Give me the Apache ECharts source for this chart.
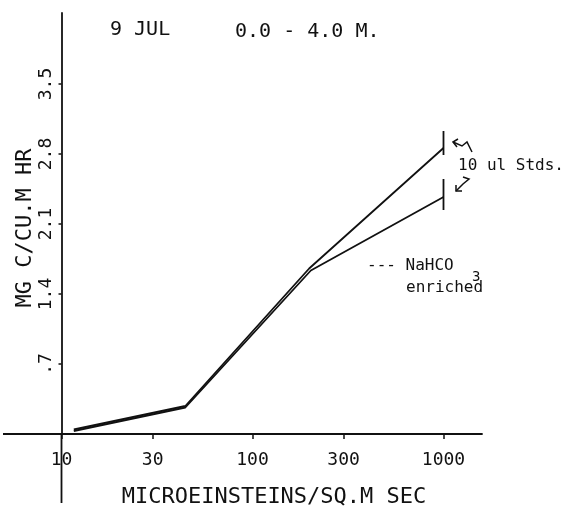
<!DOCTYPE html>
<html>
<head>
<meta charset="utf-8">
<script src="https://cdn.jsdelivr.net/npm/echarts@6/dist/echarts.min.js"></script>
<style>
  html, body { margin: 0; padding: 0; background: #fff; }
  #chart { width: 569px; height: 512px; }
</style>
</head>
<body>
<div id="chart"></div>
<script>
// Light levels (microeinsteins / sq.m / sec) and carbon uptake (mg C / cu.m / hr)
const lightUpper = [11.6, 44.5, 198, 1000];
const uptakeUpper = [0.045, 0.28, 1.655, 2.86];
const lightLower = [11.6, 44.5, 202, 1000];
const uptakeLower = [0.03, 0.265, 1.635, 2.37];

// Spread of the 10 ul standards at the top light level
const stdLight = [1000, 1000];
const stdLow = [2.79, 2.24];
const stdHigh = [3.03, 2.55];

// Axis ticks
const xTickValues = [10, 30, 100, 300, 1000];
const xTickLabels = ['10', '30', '100', '300', '1000'];
const yTickValues = [0.7, 1.4, 2.1, 2.8, 3.5];
const yTickLabels = ['.7', '1.4', '2.1', '2.8', '3.5'];

// Light is plotted in decades above 10, so the vertical axis sits at 10
const toX = v => Math.log10(v / 10);

const MONO = '"DejaVu Sans Mono", "Liberation Mono", monospace';
const INK = '#111';

// plot frame (px)
const G = { left: 61.5, top: 13, right: 87, bottom: 78 };
const W = 569, H = 512;
const axisX = G.left, axisY = H - G.bottom;

function pickLabel(values, labels, val) {
  for (let i = 0; i < values.length; i++) {
    if (Math.abs(values[i] - val) < 1e-6) return labels[i];
  }
  return '';
}

const chart = echarts.init(document.getElementById('chart'), null, { renderer: 'canvas' });

chart.setOption({
  animation: false,
  backgroundColor: '#fff',
  grid: { left: G.left, right: G.right, top: G.top, bottom: G.bottom, outerBoundsMode: 'none' },
  xAxis: {
    type: 'value',
    min: 0,
    max: 2.2016,
    axisLine: { onZero: false, lineStyle: { color: INK, width: 1.8 } },
    axisTick: {
      customValues: xTickValues.map(toX),
      length: 5,
      lineStyle: { color: INK, width: 1.5 }
    },
    axisLabel: {
      customValues: xTickValues.map(toX),
      margin: 17,
      color: INK,
      fontFamily: MONO,
      fontSize: 18,
      formatter: v => pickLabel(xTickValues.map(toX), xTickLabels, v)
    },
    splitLine: { show: false }
  },
  yAxis: {
    type: 'value',
    min: 0,
    max: 4.21,
    axisLine: { onZero: false, lineStyle: { color: INK, width: 1.8 } },
    axisTick: {
      customValues: yTickValues,
      length: 3,
      lineStyle: { color: INK, width: 1.5 }
    },
    axisLabel: {
      customValues: yTickValues,
      rotate: 90,
      margin: 6,
      color: INK,
      fontFamily: MONO,
      fontSize: 18,
      formatter: v => pickLabel(yTickValues, yTickLabels, v)
    },
    splitLine: { show: false }
  },
  series: [
    {
      type: 'line',
      symbol: 'none',
      lineStyle: { color: INK, width: 1.8 },
      data: lightUpper.map((v, i) => [toX(v), uptakeUpper[i]])
    },
    {
      type: 'line',
      symbol: 'none',
      lineStyle: { color: INK, width: 1.8 },
      data: lightLower.map((v, i) => [toX(v), uptakeLower[i]])
    },
    {
      // vertical bars showing the standards' spread
      type: 'custom',
      encode: { x: 0, y: [1, 2] },
      data: stdLight.map((v, i) => [toX(v), stdLow[i], stdHigh[i]]),
      renderItem: (params, api) => {
        const a = api.coord([api.value(0), api.value(1)]);
        const b = api.coord([api.value(0), api.value(2)]);
        return {
          type: 'line',
          shape: { x1: a[0], y1: a[1], x2: b[0], y2: b[1] },
          style: { stroke: INK, lineWidth: 1.8 }
        };
      }
    }
  ],
  graphic: [
    // axis lines run on past the crossing point
    { type: 'line', shape: { x1: 3, y1: axisY, x2: axisX, y2: axisY }, style: { stroke: INK, lineWidth: 1.8 } },
    { type: 'line', shape: { x1: axisX, y1: axisY, x2: axisX, y2: 503 }, style: { stroke: INK, lineWidth: 1.8 } },
    { type: 'text', x: 110, y: 30, style: { text: '9 JUL', font: '20px ' + MONO, fill: INK, verticalAlign: 'middle' } },
    { type: 'text', x: 235, y: 32, style: { text: '0.0 - 4.0 M.', font: '20px ' + MONO, fill: INK, verticalAlign: 'middle' } },
    { type: 'text', x: 274, y: 497, style: { text: 'MICROEINSTEINS/SQ.M SEC', font: '22px ' + MONO, fill: INK, align: 'center', verticalAlign: 'middle' } },
    { type: 'text', x: 25, y: 228, rotation: Math.PI / 2, style: { text: 'MG C/CU.M HR', font: '22px ' + MONO, fill: INK, align: 'center', verticalAlign: 'middle' } },
    { type: 'text', x: 458, y: 166, style: { text: '10 ul Stds.', font: '16px ' + MONO, fill: INK, verticalAlign: 'middle' } },
    { type: 'text', x: 367, y: 266, style: { text: '--- NaHCO', font: '16px ' + MONO, fill: INK, verticalAlign: 'middle' } },
    { type: 'text', x: 472, y: 277, style: { text: '3', font: '14px ' + MONO, fill: INK, verticalAlign: 'middle' } },
    { type: 'text', x: 406, y: 288, style: { text: 'enriched', font: '16px ' + MONO, fill: INK, verticalAlign: 'middle' } },
    // pointers to the two standard bars
    { type: 'polyline', shape: { points: [[472, 152], [467, 142], [462, 146], [453, 142]] }, style: { stroke: INK, lineWidth: 1.5, fill: null } },
    { type: 'polyline', shape: { points: [[458, 139], [453, 142], [457, 147]] }, style: { stroke: INK, lineWidth: 1.5, fill: null } },
    { type: 'polyline', shape: { points: [[463, 177], [469, 179], [463, 184], [456, 191]] }, style: { stroke: INK, lineWidth: 1.5, fill: null } },
    { type: 'polyline', shape: { points: [[456, 185], [456, 191], [462, 191]] }, style: { stroke: INK, lineWidth: 1.5, fill: null } }
  ]
});
</script>
</body>
</html>
